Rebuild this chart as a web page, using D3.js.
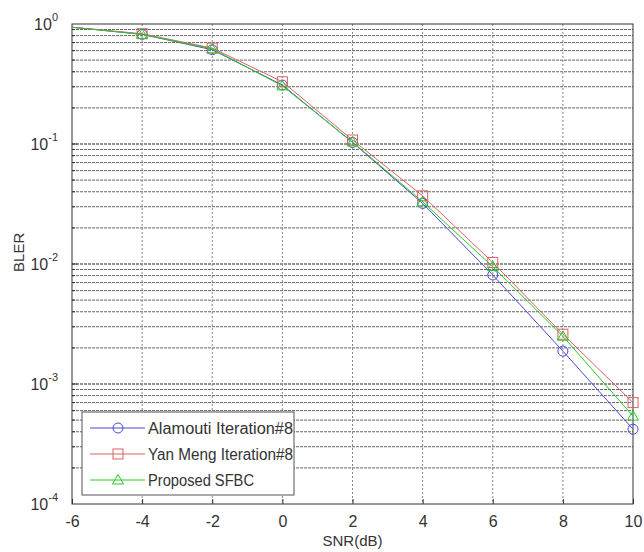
<!DOCTYPE html>
<html>
<head>
<meta charset="utf-8">
<script src="https://cdn.jsdelivr.net/npm/d3@7"></script>
<style>
  body { margin: 0; background: #fff; }
  text { font-family: "Liberation Sans", Arial, sans-serif; fill: #333; }
</style>
</head>
<body>
<div id="chart"></div>
<script>
// SNR points (dB)
const snr = [-6, -4, -2, 0, 2, 4, 6, 8, 10];

// BLER per scheme
const alamouti = [0.94, 0.82, 0.61, 0.31, 0.103, 0.032, 0.0081, 0.00188, 0.00042];
const yanMeng  = [0.94, 0.83, 0.63, 0.33, 0.108, 0.037, 0.0103, 0.0026, 0.00070];
const proposed = [0.94, 0.82, 0.62, 0.305, 0.104, 0.033, 0.0095, 0.0025, 0.00054];

const seriesNames = ["Alamouti Iteration#8", "Yan Meng Iteration#8", "Proposed SFBC"];
const xTicks = [-6, -4, -2, 0, 2, 4, 6, 8, 10];
const yExponents = [0, -1, -2, -3, -4];

const width = 644;
const height = 552;
const margin = { left: 72, right: 11, top: 24, bottom: 48 };

const svg = d3.select("#chart")
    .append("svg")
    .attr("width", width)
    .attr("height", height);

const x = d3.scaleLinear()
    .domain([-6, 10])
    .range([margin.left, width - margin.right]);

const y = d3.scaleLog()
    .domain([1e-4, 1])
    .range([height - margin.bottom, margin.top]);

const isDecade = d => Math.abs(Math.log10(d) - Math.round(Math.log10(d))) < 1e-9;

// minor values for log grid
const minorVals = [];
yExponents.slice(1).forEach(e => {
    for (let k = 1; k < 10; k++) minorVals.push(k * Math.pow(10, e));
});

// horizontal grid
svg.append("g")
    .selectAll("line")
    .data(minorVals.filter(v => v > 1e-4))
    .enter().append("line")
    .attr("x1", x(-6))
    .attr("x2", x(10))
    .attr("y1", d => y(d))
    .attr("y2", d => y(d))
    .attr("stroke", d => isDecade(d) ? "#222" : "#666")
    .attr("stroke-width", 1)
    .attr("stroke-dasharray", "3,1");

// vertical grid
svg.append("g")
    .selectAll("line")
    .data(xTicks.slice(1, -1))
    .enter().append("line")
    .attr("x1", d => x(d))
    .attr("x2", d => x(d))
    .attr("y1", y(1))
    .attr("y2", y(1e-4))
    .attr("stroke", "#888")
    .attr("stroke-width", 1)
    .attr("stroke-dasharray", "2,2");

// axes box
svg.append("rect")
    .attr("x", x(-6))
    .attr("y", y(1))
    .attr("width", x(10) - x(-6))
    .attr("height", y(1e-4) - y(1))
    .attr("fill", "none")
    .attr("stroke", "#333")
    .attr("stroke-width", 1);

// x axis ticks and labels
const xAxis = d3.axisBottom(x)
    .tickValues(xTicks)
    .tickSizeInner(-5)
    .tickSizeOuter(0)
    .tickPadding(12)
    .tickFormat(d => String(d));

const gx = svg.append("g")
    .attr("transform", `translate(0,${y(1e-4)})`)
    .call(xAxis);
gx.select(".domain").remove();
gx.selectAll("line").attr("stroke", "#333");
gx.selectAll("text").attr("font-size", 16).attr("fill", "#444")
    .attr("font-family", "Liberation Sans, Arial, sans-serif");

// y minor ticks (inward)
svg.append("g")
    .selectAll("line")
    .data(minorVals.filter(v => v > 1e-4))
    .enter().append("line")
    .attr("x1", x(-6))
    .attr("x2", d => x(-6) + (isDecade(d) ? 5 : 3))
    .attr("y1", d => y(d))
    .attr("y2", d => y(d))
    .attr("stroke", "#333");

// y tick labels 10^e
const yLab = svg.append("g")
    .selectAll("text")
    .data(yExponents)
    .enter().append("text")
    .attr("x", x(-6) - 14)
    .attr("y", d => y(Math.pow(10, d)) + 6)
    .attr("text-anchor", "end")
    .attr("font-size", 16)
    .attr("fill", "#444");
yLab.append("tspan").text("10");
yLab.append("tspan")
    .attr("dy", -9)
    .attr("font-size", 11)
    .text(d => d);

// axis titles
svg.append("text")
    .attr("x", x(2))
    .attr("y", height - 6)
    .attr("text-anchor", "middle")
    .attr("font-size", 15)
    .text("SNR(dB)");

svg.append("text")
    .attr("transform", `translate(24,${y(0.0125)}) rotate(-90)`)
    .attr("text-anchor", "middle")
    .attr("font-size", 15)
    .text("BLER");

// series
const series = [
    { name: seriesNames[0], values: alamouti, color: "#4848d8", marker: "circle" },
    { name: seriesNames[1], values: yanMeng, color: "#e06060", marker: "square" },
    { name: seriesNames[2], values: proposed, color: "#28c828", marker: "triangle" }
];

const line = d3.line()
    .x(d => x(d.x))
    .y(d => y(d.y));

function drawMarker(g, type, color) {
    if (type === "circle") {
        g.append("circle").attr("r", 5).attr("fill", "none").attr("stroke", color);
    } else if (type === "square") {
        g.append("rect").attr("x", -5).attr("y", -5).attr("width", 10).attr("height", 10)
            .attr("fill", "none").attr("stroke", color);
    } else {
        g.append("path").attr("d", "M0,-5.5L5.5,4L-5.5,4Z").attr("fill", "none").attr("stroke", color);
    }
}

series.forEach(s => {
    const pts = snr.map((v, i) => ({ x: v, y: s.values[i] }));
    svg.append("path")
        .datum(pts)
        .attr("d", line)
        .attr("fill", "none")
        .attr("stroke", s.color)
        .attr("stroke-width", 1);

    pts.filter(p => p.x > x.domain()[0]).forEach(p => {
        const g = svg.append("g").attr("transform", `translate(${x(p.x)},${y(p.y)})`);
        drawMarker(g, s.marker, s.color);
    });
});

// legend
const legX = 82, legY = 412, legW = 212, legH = 83;
const legend = svg.append("g");
legend.append("rect")
    .attr("x", legX)
    .attr("y", legY)
    .attr("width", legW)
    .attr("height", legH)
    .attr("fill", "#fff")
    .attr("stroke", "#555");

series.forEach((s, i) => {
    const cy = legY + 16 + i * 26;
    legend.append("line")
        .attr("x1", legX + 8)
        .attr("x2", legX + 63)
        .attr("y1", cy)
        .attr("y2", cy)
        .attr("stroke", s.color);
    const g = legend.append("g").attr("transform", `translate(${legX + 36},${cy})`);
    drawMarker(g, s.marker, s.color);
    legend.append("text")
        .attr("x", legX + 66)
        .attr("y", cy + 6)
        .attr("font-size", 16)
        .attr("fill", "#444")
        .attr("textLength", i === 2 ? 106 : 145)
        .attr("lengthAdjust", "spacingAndGlyphs")
        .text(s.name);
});
</script>
</body>
</html>
